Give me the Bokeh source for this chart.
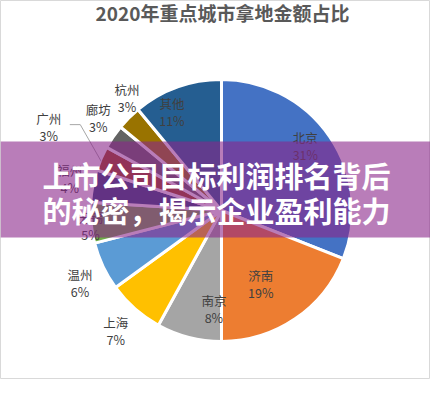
import numpy as np
from bokeh.plotting import figure
from bokeh.models import ColumnDataSource
from bokeh.core.properties import value
from bokeh.embed import file_html
from bokeh.resources import INLINE

# ---------------- data ----------------
title = "2020年重点城市拿地金额占比"
cities = ["北京", "济南", "南京", "上海", "温州", "无锡", "福州", "广州", "廊坊", "杭州", "其他"]
shares = [31, 19, 8, 7, 6, 5, 4, 3, 3, 3, 11]
colors = ["#4472C4", "#ED7D31", "#A5A5A5", "#FFC000", "#5B9BD5", "#70AD47",
          "#264478", "#9E480E", "#636363", "#997300", "#255E91"]
banner_lines = ["上市公司目标利润排名背后", "的秘密，揭示企业盈利能力"]

# ---------------- layout ----------------
W, H = 430, 379
def px(X):  # page x -> data x
    return X - 8
def py(Y):  # page y -> data y
    return H + 8 - Y

cx, cy = px(229), py(218)
R = 131
label_r = [106, 83, 99, 160, 159, 132, 155, 192, 154, 147, 110]
label_nudge = [-3.5, 6, -10, 0, -2, -1.5, 1, 2.5, 2.6, 5, -7]
FONT = "Noto Sans CJK SC"

p = figure(width=W, height=H, x_range=(0, W), y_range=(0, H),
           output_backend="svg", toolbar_location=None,
           min_border=0, min_border_left=0, min_border_right=0,
           min_border_top=0, min_border_bottom=0)
p.axis.visible = False
p.grid.visible = False
p.outline_line_color = "#D9D9D9"
p.background_fill_color = "white"

vals = np.array(shares, dtype=float)
frac = vals / vals.sum()
cum = np.concatenate([[0], np.cumsum(frac)])
a0 = cum[:-1] * 2 * np.pi          # clockwise from top
a1 = cum[1:] * 2 * np.pi
mid = (a0 + a1) / 2

src = ColumnDataSource(dict(start=np.pi / 2 - a0, end=np.pi / 2 - a1, color=colors))
p.wedge(x=cx, y=cy, radius=R, start_angle="start", end_angle="end",
        direction="clock", fill_color="color", line_color="white",
        line_width=3, source=src)

# labels
la = mid + np.radians(label_nudge)
lx = cx + np.array(label_r) * np.sin(la)
ly = cy + np.array(label_r) * np.cos(la)
pct = [f"{round(f * 100)}%" for f in frac]
p.text(x=lx, y=ly + 8.5, text=cities, text_font=value(FONT), text_font_size="12.5px",
       text_color="#404040", text_align="center", text_baseline="middle")
p.text(x=lx, y=ly - 8.5, text=pct, text_font=value(FONT), text_font_size="12.5px",
       text_color="#404040", text_align="center", text_baseline="middle")

# leader line for 广州
gi = cities.index("广州")
ex = cx + R * np.sin(mid[gi])
ey = cy + R * np.cos(mid[gi])
sx, sy = lx[gi] + 21, ly[gi] + 2
p.line(x=[sx, ex - 21, ex], y=[sy, sy, ey - 3], line_color="#A6A6A6", line_width=1)

# title
p.text(x=[px(230)], y=[py(20)], text=[title], text_font=value(FONT),
       text_font_size="19px", text_font_style="bold", text_color="#595959",
       text_align="center", text_baseline="middle")

# banner overlay
p.quad(left=0, right=W, top=py(149), bottom=py(245),
       fill_color="#8A268A", fill_alpha=0.6, line_color=None)
p.text(x=[px(224), px(224)], y=[py(182), py(217)], text=banner_lines,
       text_font=value(FONT), text_font_size="29px", text_font_style="bold",
       text_color="white", text_align="center", text_baseline="middle")

open("out.html", "w").write(file_html(p, INLINE))
